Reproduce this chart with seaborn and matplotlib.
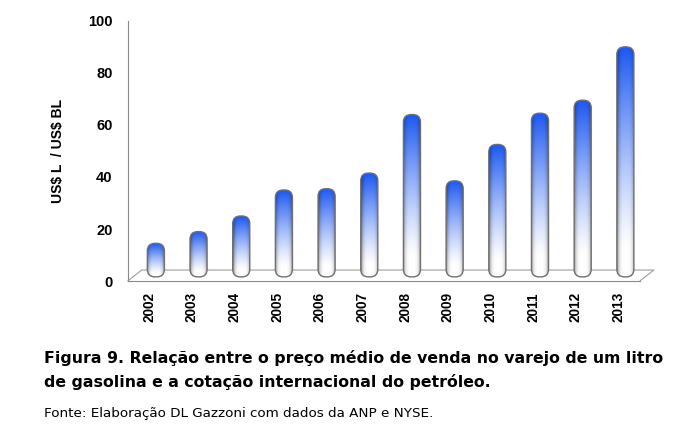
import numpy as np
import matplotlib
matplotlib.use("Agg")
import matplotlib.pyplot as plt
import seaborn as sns
from matplotlib import font_manager
from matplotlib.patches import FancyBboxPatch
from matplotlib.colors import to_rgb

# -----------------------------
# Data
# -----------------------------
years = ["2002", "2003", "2004", "2005", "2006", "2007",
         "2008", "2009", "2010", "2011", "2012", "2013"]
ratio = [14.5, 19, 25, 35, 35.5, 41.5, 64, 38.5, 52.5, 64.5, 69.5, 90]
y_ticks = [0, 20, 40, 60, 80, 100]

y_label = r"US\$ L  / US\$ BL"
caption_1 = "Figura 9. Relação entre o preço médio de venda no varejo de um litro"
caption_2 = "de gasolina e a cotação internacional do petróleo."
source = "Fonte: Elaboração DL Gazzoni com dados da ANP e NYSE."

# -----------------------------
# Style
# -----------------------------
sns.set_style("white")
plt.rcParams["font.family"] = ["Liberation Sans", "DejaVu Sans"]
plt.rcParams["text.color"] = "black"
plt.rcParams["xtick.color"] = "black"
plt.rcParams["ytick.color"] = "black"
plt.rcParams["axes.labelcolor"] = "black"
axis_grey = "#8a8a8a"

# plain (not narrow) Arial-like bold
bold_file = None
for f in font_manager.fontManager.ttflist:
    if f.name == "Liberation Sans" and f.weight == 700 and f.style == "normal":
        bold_file = f.fname
        break


def arial_bold(size):
    if bold_file:
        return font_manager.FontProperties(fname=bold_file, size=size)
    return font_manager.FontProperties(family="DejaVu Sans", weight="bold", size=size)


fig = plt.figure(figsize=(6.94, 4.44), dpi=100)
ax = fig.add_axes([0.184, 0.367, 0.738, 0.586])

sns.barplot(x=years, y=ratio, width=0.4, color="white", errorbar=None, ax=ax)

ax.set_xlim(-0.5, 11.5)
ax.set_ylim(0, 100)

# -----------------------------
# Rounded gradient "cylinders" standing on a shallow 3D floor
# -----------------------------
fig.canvas.draw()
box = ax.get_window_extent()
aspect = (box.width / 12) / (box.height / 100)
depth_x = 0.16   # shift into the floor (category units)
depth_y = 1.6    # base raised above the front edge (value units)

blue = np.array(to_rgb("#1c58f2"))
t = np.linspace(0, 1, 200)[:, None]
u = np.linspace(-1, 1, 60)[None, :]
wgt = np.clip((t - 0.12) / 0.88, 0, 1) ** 1.2
grad = 1 - wgt[..., None] * (1 - blue)
shade = 1 - 0.45 * np.abs(u) ** 4
grad = np.clip(grad * shade[..., None], 0, 1)

for bar in list(ax.patches):
    x0, w, h = bar.get_x() + depth_x, bar.get_width(), bar.get_height()
    bar.set_visible(False)
    r = w * 0.45
    shape = FancyBboxPatch((x0, depth_y), w, h - depth_y,
                           boxstyle=f"round,pad=0,rounding_size={r}",
                           mutation_aspect=aspect,
                           facecolor="none", edgecolor="#707070",
                           lw=1.0, zorder=4)
    ax.add_patch(shape)
    im = ax.imshow(grad, extent=[x0, x0 + w, depth_y, h], origin="lower",
                   aspect="auto", zorder=3, interpolation="bilinear")
    im.set_clip_path(shape)

ax.set_xlim(-0.5, 11.5)
ax.set_ylim(0, 100)
ax.set_aspect("auto")

# floor outline (3D look)
dx, dy = 0.0273, 0.0423
ax.plot([0, dx, 1 + dx, 1], [0, dy, dy, 0], transform=ax.transAxes,
        color="#a0a0a0", lw=0.8, clip_on=False, zorder=2)

# -----------------------------
# Axes
# -----------------------------
sns.despine(ax=ax, top=True, right=True)
for side in ["left", "bottom"]:
    ax.spines[side].set_color(axis_grey)
    ax.spines[side].set_linewidth(0.8)

ax.set_yticks(y_ticks)
ax.set_yticklabels([str(v) for v in y_ticks], fontproperties=arial_bold(10.5))
ax.tick_params(axis="y", length=5, width=0.8, color=axis_grey, pad=6)

ax.set_xticks(range(len(years)))
ax.set_xticklabels(years, rotation=90, fontproperties=arial_bold(9.8))
ax.set_xticks(np.arange(0.5, 12, 1), minor=True)
ax.tick_params(axis="x", which="major", length=0, pad=8)
ax.tick_params(axis="x", which="minor", length=5, width=0.8, color=axis_grey)

ax.set_xlabel("")
ax.set_ylabel(y_label, fontproperties=arial_bold(10))
ax.yaxis.set_label_coords(-0.122, 0.5)

# -----------------------------
# Caption
# -----------------------------
fig.text(0.0634, 0.1937, caption_1, fontsize=11.3, fontweight="bold",
         family="DejaVu Sans", va="center")
fig.text(0.0634, 0.1396, caption_2, fontsize=11.3, fontweight="bold",
         family="DejaVu Sans", va="center")
fig.text(0.0634, 0.0676, source, fontsize=9.7, family="DejaVu Sans", va="center")

plt.savefig("out.png", dpi=100)
plt.close()
